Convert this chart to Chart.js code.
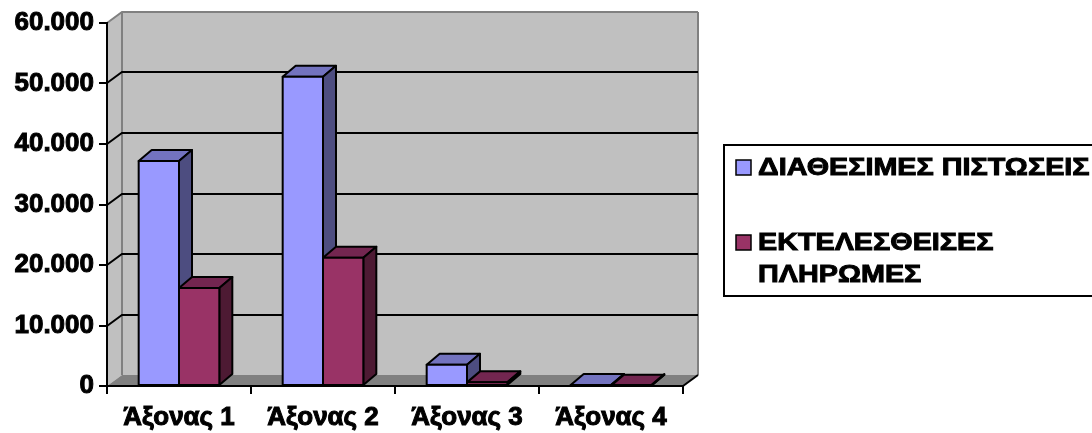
<!DOCTYPE html>
<html>
<head>
<meta charset="utf-8">
<script src="https://cdn.jsdelivr.net/npm/chart.js@4"></script>
<style>
  html, body { margin: 0; padding: 0; background: #fff; }
</style>
</head>
<body>
<canvas id="chart" width="1092" height="433"></canvas>
<script>
// Datos del gráfico
const categories = ['Άξονας 1', 'Άξονας 2', 'Άξονας 3', 'Άξονας 4'];
const seriesNames = ['ΔΙΑΘΕΣΙΜΕΣ ΠΙΣΤΩΣΕΙΣ', 'ΕΚΤΕΛΕΣΘΕΙΣΕΣ ΠΛΗΡΩΜΕΣ'];
const availableCredits = [37200, 51100, 3500, 150];
const executedPayments = [16200, 21200, 600, 60];
const yTickLabels = ['0', '10.000', '20.000', '30.000', '40.000', '50.000', '60.000'];

// Colores de las caras (frente, arriba, lado)
const frontColors = ['#9999FF', '#993366'];
const topColors = ['#7373BF', '#732650'];
const sideColors = ['#4D4D80', '#4D1A33'];

const FONT = '"Liberation Sans", Arial, sans-serif';
const DX = 13, DY = -11;   // profundidad de las barras
const WX = 15, WY = -11;   // profundidad de las paredes

function poly(ctx, pts, fill) {
    ctx.beginPath();
    ctx.moveTo(pts[0][0], pts[0][1]);
    for (let i = 1; i < pts.length; i++) ctx.lineTo(pts[i][0], pts[i][1]);
    ctx.closePath();
    if (fill) { ctx.fillStyle = fill; ctx.fill(); }
    ctx.stroke();
}

// Paredes, suelo y líneas de cuadrícula en la pared del fondo
const walls = {
    id: 'walls',
    beforeDraw(chart) {
        const { ctx, chartArea: a } = chart;
        const y = chart.scales.y;
        ctx.save();
        ctx.fillStyle = '#fff';
        ctx.fillRect(0, 0, chart.width, chart.height);

        ctx.fillStyle = '#C0C0C0';
        ctx.fillRect(a.left + WX, a.top + WY, a.width, a.height);
        ctx.beginPath();
        ctx.moveTo(a.left, a.top);
        ctx.lineTo(a.left + WX, a.top + WY);
        ctx.lineTo(a.left + WX, a.bottom + WY);
        ctx.lineTo(a.left, a.bottom);
        ctx.closePath();
        ctx.fill();

        // suelo
        ctx.fillStyle = '#808080';
        ctx.beginPath();
        ctx.moveTo(a.left, a.bottom);
        ctx.lineTo(a.right, a.bottom);
        ctx.lineTo(a.right + WX, a.bottom + WY);
        ctx.lineTo(a.left + WX, a.bottom + WY);
        ctx.closePath();
        ctx.fill();

        // bordes grises de la pared
        ctx.lineWidth = 2;
        ctx.strokeStyle = '#808080';
        ctx.beginPath();
        ctx.moveTo(a.left + WX, a.bottom + WY);
        ctx.lineTo(a.left + WX, a.top + WY);
        ctx.moveTo(a.right + WX, a.top + WY);
        ctx.lineTo(a.right + WX, a.bottom + WY);
        ctx.stroke();

        // cuadrícula
        y.ticks.forEach(t => {
            if (t.value === y.min) return;
            const py = Math.round(y.getPixelForValue(t.value));
            ctx.strokeStyle = t.value === y.max ? '#808080' : '#000';
            ctx.beginPath();
            ctx.moveTo(a.left, py);
            ctx.lineTo(a.left + WX, py + WY);
            ctx.lineTo(a.right + WX, py + WY);
            ctx.stroke();
        });

        // borde derecho del suelo
        ctx.strokeStyle = '#000';
        ctx.beginPath();
        ctx.moveTo(a.right, a.bottom);
        ctx.lineTo(a.right + WX, a.bottom + WY);
        ctx.stroke();
        ctx.restore();
    }
};

// Barras en 3D a partir de los elementos del gráfico
const bars3d = {
    id: 'bars3d',
    afterDatasetsDraw(chart) {
        const ctx = chart.ctx;
        const metas = chart.data.datasets.map((d, i) => chart.getDatasetMeta(i));
        ctx.save();
        ctx.lineWidth = 2;
        ctx.strokeStyle = '#000';
        ctx.lineJoin = 'round';
        categories.forEach((c, i) => {
            metas.forEach((meta, d) => {
                const { x, y, base, width } = meta.data[i].getProps(['x', 'y', 'base', 'width'], true);
                const l = x - width / 2, r = x + width / 2;
                poly(ctx, [[l, y], [l + DX, y + DY], [r + DX, y + DY], [r, y]], topColors[d]);
                poly(ctx, [[r, y], [r + DX, y + DY], [r + DX, base + DY], [r, base]], sideColors[d]);
                poly(ctx, [[l, y], [r, y], [r, base], [l, base]], frontColors[d]);
            });
        });
        ctx.restore();
    }
};

// Leyenda con recuadro
const legendBox = {
    id: 'legendBox',
    afterDraw(chart) {
        const ctx = chart.ctx;
        const textScale = 1.25;
        const maxWidth = 345;
        const itemTops = [168, 243];
        const lineStep = 32;
        ctx.save();
        ctx.fillStyle = '#fff';
        ctx.strokeStyle = '#000';
        ctx.lineWidth = 2;
        ctx.fillRect(724, 145, 400, 151);
        ctx.strokeRect(724, 145, 400, 151);
        ctx.font = 'bold 23px ' + FONT;
        ctx.textBaseline = 'middle';
        chart.data.datasets.forEach((ds, d) => {
            const words = ds.label.split(' ');
            const lines = [];
            let cur = '';
            words.forEach(w => {
                const t = cur ? cur + ' ' + w : w;
                if (cur && ctx.measureText(t).width * textScale > maxWidth) {
                    lines.push(cur);
                    cur = w;
                } else cur = t;
            });
            lines.push(cur);
            const yc = itemTops[d];
            ctx.lineWidth = 1.5;
            ctx.strokeStyle = '#000';
            ctx.fillStyle = ds.backgroundColor;
            ctx.fillRect(736, yc - 8, 15, 15);
            ctx.strokeRect(736, yc - 8, 15, 15);
            ctx.fillStyle = '#000';
            lines.forEach((ln, k) => {
                ctx.save();
                ctx.translate(758, yc + k * lineStep);
                ctx.scale(textScale, 1);
                ctx.lineWidth = 0.9;
                ctx.fillText(ln, 0, 1);
                ctx.strokeText(ln, 0, 1);
                ctx.restore();
            });
        });
        ctx.restore();
    }
};

const tickFont = size => ({ family: FONT, size: size, weight: 'bold' });

new Chart(document.getElementById('chart'), {
    type: 'bar',
    data: {
        labels: categories,
        datasets: [{
            label: seriesNames[0],
            data: availableCredits,
            backgroundColor: frontColors[0],
            borderWidth: 0
        }, {
            label: seriesNames[1],
            data: executedPayments,
            backgroundColor: frontColors[1],
            borderWidth: 0
        }]
    },
    options: {
        responsive: false,
        animation: false,
        devicePixelRatio: 1,
        categoryPercentage: 0.56,
        barPercentage: 1,
        layout: { padding: { top: 23, right: 409, bottom: 0, left: 0 } },
        plugins: { legend: { display: false }, tooltip: { enabled: false } },
        scales: {
            x: {
                grid: { offset: true, drawOnChartArea: false, tickLength: 8, color: '#000', lineWidth: 2 },
                border: { color: '#000', width: 2 },
                ticks: {
                    color: '#000', font: tickFont(26), padding: 8, maxRotation: 0, autoSkip: false,
                    textStrokeColor: '#000', textStrokeWidth: 1
                },
                afterFit(s) { s.height = 47; }
            },
            y: {
                min: 0,
                max: 60000,
                grid: { drawOnChartArea: false, tickLength: 8, color: '#000', lineWidth: 2 },
                border: { color: '#000', width: 2 },
                ticks: {
                    stepSize: 10000,
                    color: '#000',
                    padding: 5,
                    font: tickFont(26),
                    textStrokeColor: '#000',
                    textStrokeWidth: 1,
                    callback: (v, i) => yTickLabels[i]
                },
                afterFit(s) { s.width = 107; }
            }
        }
    },
    plugins: [walls, bars3d, legendBox]
});
</script>
</body>
</html>
